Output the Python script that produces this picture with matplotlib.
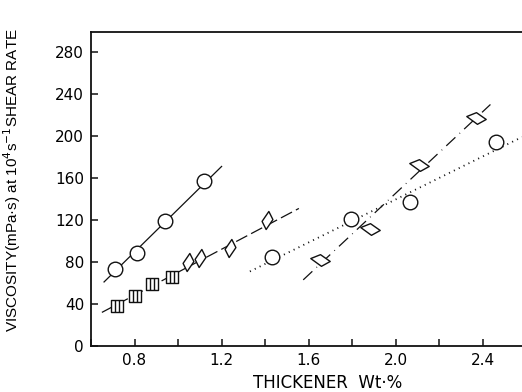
import matplotlib
matplotlib.use("Agg")
import matplotlib.pyplot as plt
from matplotlib.path import Path
from matplotlib.ticker import MultipleLocator

# thickener wt% / viscosity (mPa s)
circ_a_x = [0.71, 0.81, 0.94, 1.12]
circ_a_y = [73, 89, 119, 157]
fit_a_x = [0.66, 1.20]
fit_a_y = [61, 171]

sq_x = [0.72, 0.80, 0.88, 0.97]
sq_y = [38, 48, 59, 66]
dia_a_x = [1.045, 1.10, 1.24, 1.41]
dia_a_y = [80, 84, 93, 120]
fit_b_x = [0.65, 1.555]
fit_b_y = [32, 131]

circ_b_x = [1.43, 1.795, 2.065, 2.46]
circ_b_y = [85, 121, 137, 194]
fit_c_x = [1.33, 2.58]
fit_c_y = [71, 199]

dia_b_x = [1.65, 1.88, 2.105, 2.37]
dia_b_y = [82, 111, 172, 217]
fit_d_x = [1.575, 2.435]
fit_d_y = [63, 230]

xticks = [0.8, 1.2, 1.6, 2.0, 2.4]
yticks = [0, 40, 80, 120, 160, 200, 240, 280]

plt.rcParams["font.family"] = ["DejaVu Sans"]

# custom markers
sq_path = Path(
    [(-1, -1), (1, -1), (1, 1), (-1, 1), (-1, -1),
     (-0.33, -1), (-0.33, 1), (0.33, -1), (0.33, 1)],
    [Path.MOVETO, Path.LINETO, Path.LINETO, Path.LINETO, Path.CLOSEPOLY,
     Path.MOVETO, Path.LINETO, Path.MOVETO, Path.LINETO])
dia_tall = Path([(0.15, 1), (0.6, 0.1), (-0.15, -1), (-0.6, -0.1), (0.15, 1)],
                [Path.MOVETO, Path.LINETO, Path.LINETO, Path.LINETO, Path.CLOSEPOLY])
dia_flat = Path([(-1, 0.2), (0.0, 0.6), (1, -0.1), (0.1, -0.6), (-1, 0.2)],
                [Path.MOVETO, Path.LINETO, Path.LINETO, Path.LINETO, Path.CLOSEPOLY])

fig = plt.figure(figsize=(5.22, 3.92), dpi=100)
ax = fig.add_axes([0.1743, 0.1173, 0.8257, 0.801])

K = "#111111"
mk = dict(color="white", markeredgecolor=K, markeredgewidth=1.0, linestyle="none", zorder=3)

ax.plot(fit_a_x, fit_a_y, color=K, lw=0.9)
ax.plot(circ_a_x, circ_a_y, marker="o", markersize=10.5, **mk)

ax.plot(fit_b_x, fit_b_y, color=K, lw=0.9, dashes=(10, 3.5))
ax.plot(sq_x, sq_y, marker=sq_path, markersize=9, **mk)
ax.plot(dia_a_x, dia_a_y, marker=dia_tall, markersize=13, **mk)

ax.plot(fit_c_x, fit_c_y, color=K, lw=1.3, dashes=(0.6, 2.4))
ax.plot(circ_b_x, circ_b_y, marker="o", markersize=10.5, **mk)

ax.plot(fit_d_x, fit_d_y, color=K, lw=0.9, dashes=(10, 4.5, 0.6, 4.5))
ax.plot(dia_b_x, dia_b_y, marker=dia_flat, markersize=14, **mk)

ax.set_xlim(0.60, 2.58)
ax.set_ylim(0, 299)
ax.set_xticks(xticks)
ax.set_xticklabels([f"{v:.1f}" for v in xticks])
ax.xaxis.set_minor_locator(MultipleLocator(0.2))
ax.set_yticks(yticks)

ax.spines["right"].set_visible(False)
for s in ["left", "bottom", "top"]:
    ax.spines[s].set_linewidth(1.3)
    ax.spines[s].set_color(K)
ax.tick_params(which="both", direction="in", color=K, width=1.1, labelsize=11, pad=5)
ax.tick_params(which="major", length=5)
ax.tick_params(which="minor", length=5)
ax.tick_params(axis="x", top=False, which="both")

ax.set_xlabel("THICKENER  Wt·%", fontsize=12)
ax.set_ylabel("VISCOSITY(mPa·s) at 10$^4$s$^{-1}$SHEAR RATE",
              fontsize=11, family="Liberation Sans")
ax.xaxis.set_label_coords(0.548, -0.088)
ax.yaxis.set_label_coords(-0.158, 0.53)

fig.savefig("out.png", dpi=100)
